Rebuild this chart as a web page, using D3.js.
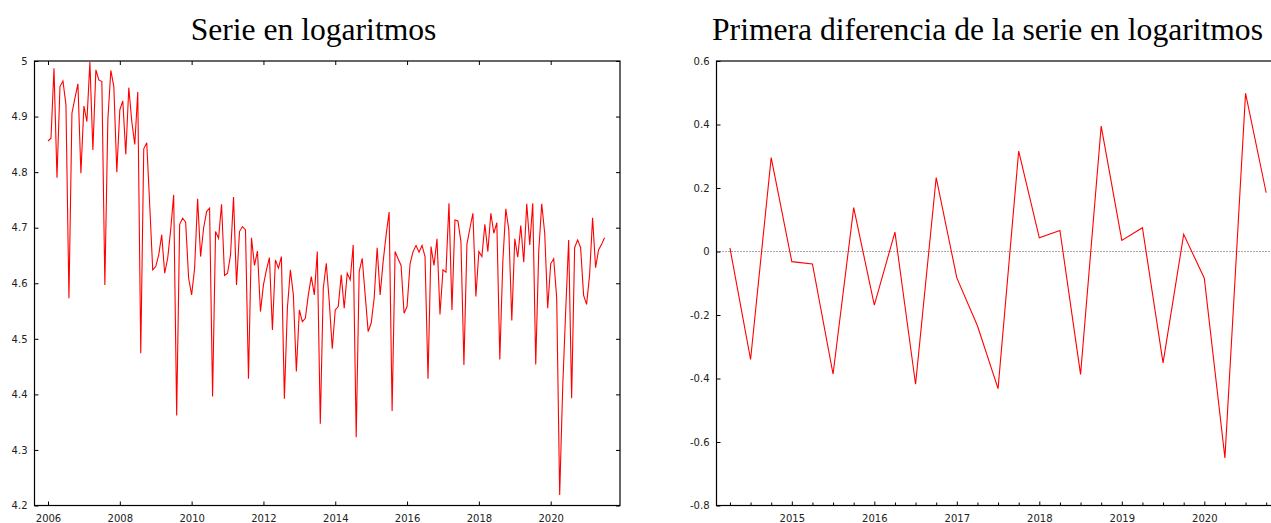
<!DOCTYPE html>
<html>
<head>
<meta charset="utf-8">
<script src="https://cdn.jsdelivr.net/npm/d3@7"></script>
<style>
  html, body { margin: 0; padding: 0; background: #fff; }
  svg { display: block; }
  .tick text { font-family: "DejaVu Sans", sans-serif; font-size: 10px; fill: #222; }
  .title { font-family: "Liberation Serif", "Times New Roman", serif; font-size: 31.6px; fill: #000; }
</style>
</head>
<body>
<svg id="chart" width="1271" height="523"></svg>
<script>
// Monthly log series, January 2006 onwards
const logStartYear = 2006;
const logSeries = [
  4.856, 4.861, 4.987, 4.790, 4.954, 4.964, 4.921, 4.573, 4.906, 4.933, 4.959, 4.798,
  4.919, 4.891, 4.998, 4.840, 4.984, 4.966, 4.963, 4.597, 4.894, 4.983, 4.954, 4.800,
  4.912, 4.928, 4.832, 4.952, 4.891, 4.850, 4.944, 4.474, 4.842, 4.853, 4.740, 4.624,
  4.630, 4.651, 4.687, 4.618, 4.645, 4.696, 4.759, 4.362, 4.706, 4.717, 4.710, 4.609,
  4.579, 4.627, 4.752, 4.648, 4.699, 4.729, 4.735, 4.396, 4.693, 4.681, 4.742, 4.614,
  4.618, 4.651, 4.755, 4.597, 4.693, 4.702, 4.696, 4.428, 4.682, 4.632, 4.658, 4.549,
  4.597, 4.624, 4.646, 4.516, 4.642, 4.627, 4.648, 4.392, 4.555, 4.624, 4.579, 4.441,
  4.552, 4.531, 4.537, 4.579, 4.612, 4.579, 4.657, 4.347, 4.591, 4.636, 4.567, 4.482,
  4.552, 4.558, 4.615, 4.555, 4.618, 4.606, 4.669, 4.323, 4.621, 4.645, 4.579, 4.513,
  4.528, 4.573, 4.664, 4.579, 4.639, 4.687, 4.728, 4.370, 4.657, 4.644, 4.632, 4.546,
  4.558, 4.635, 4.657, 4.668, 4.656, 4.668, 4.648, 4.428, 4.666, 4.632, 4.680, 4.544,
  4.624, 4.620, 4.744, 4.552, 4.714, 4.712, 4.675, 4.453, 4.670, 4.699, 4.726, 4.576,
  4.657, 4.648, 4.706, 4.657, 4.726, 4.690, 4.709, 4.463, 4.639, 4.734, 4.696, 4.533,
  4.680, 4.647, 4.704, 4.638, 4.743, 4.669, 4.744, 4.454, 4.657, 4.743, 4.690, 4.555,
  4.635, 4.644, 4.574, 4.219, 4.411, 4.549, 4.678, 4.393, 4.664, 4.678, 4.664, 4.578,
  4.562, 4.615, 4.718, 4.628, 4.660, 4.670, 4.682
];

// Quarterly first difference, 2014 Q2 onwards
const diffStartYear = 2014.25;
const diffSeries = [
  0.011, -0.340, 0.296, -0.032, -0.039, -0.386, 0.138, -0.169, 0.061, -0.418,
  0.233, -0.083, -0.234, -0.432, 0.316, 0.043, 0.066, -0.387, 0.395, 0.035,
  0.075, -0.351, 0.054, -0.084, -0.650, 0.498, 0.185
];

const leftYearTicks = [2006, 2008, 2010, 2012, 2014, 2016, 2018, 2020];
const leftValueTicks = [4.2, 4.3, 4.4, 4.5, 4.6, 4.7, 4.8, 4.9, 5];
const rightYearTicks = [2015, 2016, 2017, 2018, 2019, 2020];
const rightValueTicks = [-0.8, -0.6, -0.4, -0.2, 0, 0.2, 0.4, 0.6];

const svg = d3.select("#chart");
const fmt = v => String(+v.toFixed(2));

function panel(opts) {
  const { x, y, data, xTicks, yTicks, minorX, mirror, zeroLine, title, titleX } = opts;
  const [x0, x1] = x.range();
  const [y1, y0] = y.range();
  const g = svg.append("g");

  if (zeroLine) {
    g.append("line")
      .attr("x1", x0).attr("x2", x1)
      .attr("y1", y(0)).attr("y2", y(0))
      .attr("stroke", "#555").attr("stroke-width", 1)
      .attr("stroke-dasharray", "1,2");
  }

  const line = d3.line().x(d => x(d[0])).y(d => y(d[1]));
  g.append("path")
    .datum(data)
    .attr("fill", "none")
    .attr("stroke", "#ff0000")
    .attr("stroke-width", 1.1)
    .attr("stroke-linejoin", "miter")
    .attr("d", line);

  // Inward ticks, labels outside
  const bottom = g.append("g").attr("transform", `translate(0,${y1})`)
    .call(d3.axisBottom(x).tickValues(xTicks).tickFormat(d3.format("d"))
      .tickSizeInner(-4).tickSizeOuter(0).tickPadding(9));
  const left = g.append("g").attr("transform", `translate(${x0},0)`)
    .call(d3.axisLeft(y).tickValues(yTicks).tickFormat(fmt)
      .tickSizeInner(-4).tickSizeOuter(0).tickPadding(7));
  [bottom, left].forEach(a => a.select(".domain").remove());

  if (minorX) {
    g.append("g").attr("transform", `translate(0,${y1})`)
      .call(d3.axisBottom(x).tickValues(minorX).tickFormat("")
        .tickSizeInner(-3).tickSizeOuter(0))
      .select(".domain").remove();
  }

  if (mirror) {
    const top = g.append("g").attr("transform", `translate(0,${y0})`)
      .call(d3.axisTop(x).tickValues(xTicks).tickFormat("").tickSizeInner(-4).tickSizeOuter(0));
    const right = g.append("g").attr("transform", `translate(${x1},0)`)
      .call(d3.axisRight(y).tickValues(yTicks).tickFormat("").tickSizeInner(-4).tickSizeOuter(0));
    [top, right].forEach(a => a.select(".domain").remove());
  }

  g.selectAll(".tick line").attr("stroke", "#000");

  g.append("rect")
    .attr("x", x0).attr("y", y0)
    .attr("width", x1 - x0).attr("height", y1 - y0)
    .attr("fill", "none").attr("stroke", "#000").attr("stroke-width", 1.2);

  svg.append("text").attr("class", "title")
    .attr("x", titleX).attr("y", 40)
    .attr("text-anchor", "middle")
    .text(title);
}

// Left panel: log series
const xL = d3.scaleLinear().domain([2005.624, 2021.93]).range([34.5, 620]);
const yL = d3.scaleLinear().domain([4.2, 5]).range([505.5, 61]);
panel({
  x: xL, y: yL,
  data: logSeries.map((v, i) => [logStartYear + i / 12, v]),
  xTicks: leftYearTicks, yTicks: leftValueTicks,
  mirror: true, title: "Serie en logaritmos", titleX: 313.5
});

// Right panel: first difference
const xR = d3.scaleLinear().domain([2014.087, 2021.0]).range([716.5, 1286.8]);
const yR = d3.scaleLinear().domain([-0.8, 0.6]).range([505.5, 61]);
const quarterTicks = d3.range(2014.25, 2021.0, 0.25).filter(q => q % 1 !== 0);
panel({
  x: xR, y: yR,
  data: diffSeries.map((v, i) => [diffStartYear + i * 0.25, v]),
  xTicks: rightYearTicks, yTicks: rightValueTicks, minorX: quarterTicks,
  zeroLine: true, title: "Primera diferencia de la serie en logaritmos", titleX: 987.5
});
</script>
</body>
</html>
